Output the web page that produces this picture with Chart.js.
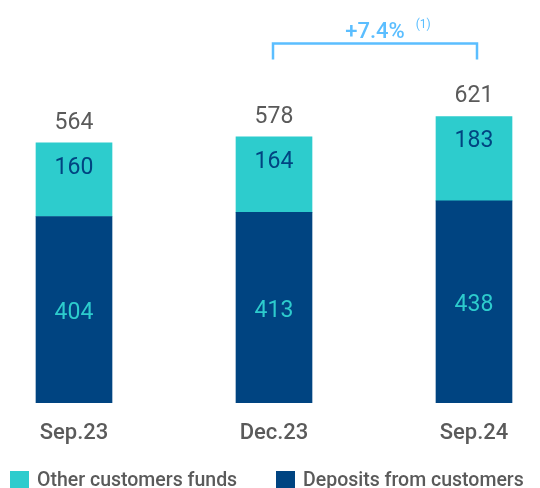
<!DOCTYPE html>
<html>
<head>
<meta charset="utf-8">
<script src="https://cdn.jsdelivr.net/npm/chart.js@4/dist/chart.umd.min.js"></script>
<style>
  html, body { margin: 0; padding: 0; background: #fff; }
  #wrap { width: 540px; height: 488px; position: relative; }
</style>
</head>
<body>
<div id="wrap"><canvas id="chart"></canvas></div>
<script>
// data
const categories = ['Sep.23', 'Dec.23', 'Sep.24'];
const depositsFromCustomers = [404, 413, 438];
const otherCustomersFunds = [160, 164, 183];
const totals = [564, 578, 621];
const growthFrom = 1;
const growthTo = 2;
const growthLabel = '+7.4%';
const growthNote = '(1)';

const NAVY = '#004481';
const AQUA = '#2dcccd';
const SKY = '#5bbeff';
const GREY = '#5a5a5a';
const FONT = 'Roboto, "Noto Sans", sans-serif';

// value labels, totals, growth bracket and legend
const overlay = {
  id: 'overlay',
  afterDatasetsDraw(chart) {
    const { ctx } = chart;
    const dark = chart.getDatasetMeta(0).data;
    const light = chart.getDatasetMeta(1).data;
    ctx.save();
    ctx.textAlign = 'center';
    ctx.textBaseline = 'middle';
    categories.forEach((c, i) => {
      const d = dark[i], l = light[i];
      ctx.font = `400 23px ${FONT}`;
      ctx.fillStyle = AQUA;
      ctx.fillText(depositsFromCustomers[i], d.x, (d.y + d.base) / 2 + 4);
      ctx.fillStyle = NAVY;
      ctx.fillText(otherCustomersFunds[i], l.x, l.y + 25);
      ctx.fillStyle = GREY;
      ctx.fillText(totals[i], l.x, l.y - 20);
    });

    // bracket
    const x1 = light[growthFrom].x - 1;
    const x2 = light[growthTo].x + 3;
    const by = light[growthTo].y - 73;
    ctx.strokeStyle = SKY;
    ctx.lineWidth = 2.5;
    ctx.beginPath();
    ctx.moveTo(x1, by + 16);
    ctx.lineTo(x1, by);
    ctx.lineTo(x2, by);
    ctx.lineTo(x2, by + 16);
    ctx.stroke();
    const mid = (x1 + x2) / 2;
    ctx.fillStyle = SKY;
    ctx.textBaseline = 'alphabetic';
    ctx.font = `500 22px ${FONT}`;
    ctx.fillText(growthLabel, mid, by - 6);
    const w = ctx.measureText(growthLabel).width;
    ctx.font = `400 12px ${FONT}`;
    ctx.textAlign = 'left';
    ctx.fillText(growthNote, mid + w / 2 + 11, by - 16);

    // legend
    const items = [
      { ds: chart.data.datasets[1], x: 10 },
      { ds: chart.data.datasets[0], x: 276 }
    ];
    ctx.font = `500 19.5px ${FONT}`;
    items.forEach(it => {
      ctx.fillStyle = it.ds.backgroundColor;
      ctx.fillRect(it.x, 471, 19, 19);
      ctx.fillStyle = GREY;
      ctx.fillText(it.ds.label, it.x + 27, 486);
    });
    ctx.restore();
  }
};

new Chart(document.getElementById('chart'), {
  type: 'bar',
  data: {
    labels: categories,
    datasets: [
      { label: 'Deposits from customers', data: depositsFromCustomers, backgroundColor: NAVY, barThickness: 76, clip: false },
      { label: 'Other customers funds', data: otherCustomersFunds, backgroundColor: AQUA, barThickness: 76, clip: false }
    ]
  },
  options: {
    responsive: true, maintainAspectRatio: false, animation: false,
    layout: { padding: { left: 74, right: 66, top: 0, bottom: 23 } },
    plugins: { legend: { display: false }, tooltip: { enabled: false } },
    scales: {
      x: {
        stacked: true, offset: false,
        grid: { display: false, drawTicks: false }, border: { display: false },
        ticks: { color: GREY, font: { family: FONT, size: 22, weight: '500' }, padding: 18, maxRotation: 0 }
      },
      y: { stacked: true, display: false, min: 0, max: 874 }
    }
  },
  plugins: [overlay]
});
</script>
</body>
</html>
